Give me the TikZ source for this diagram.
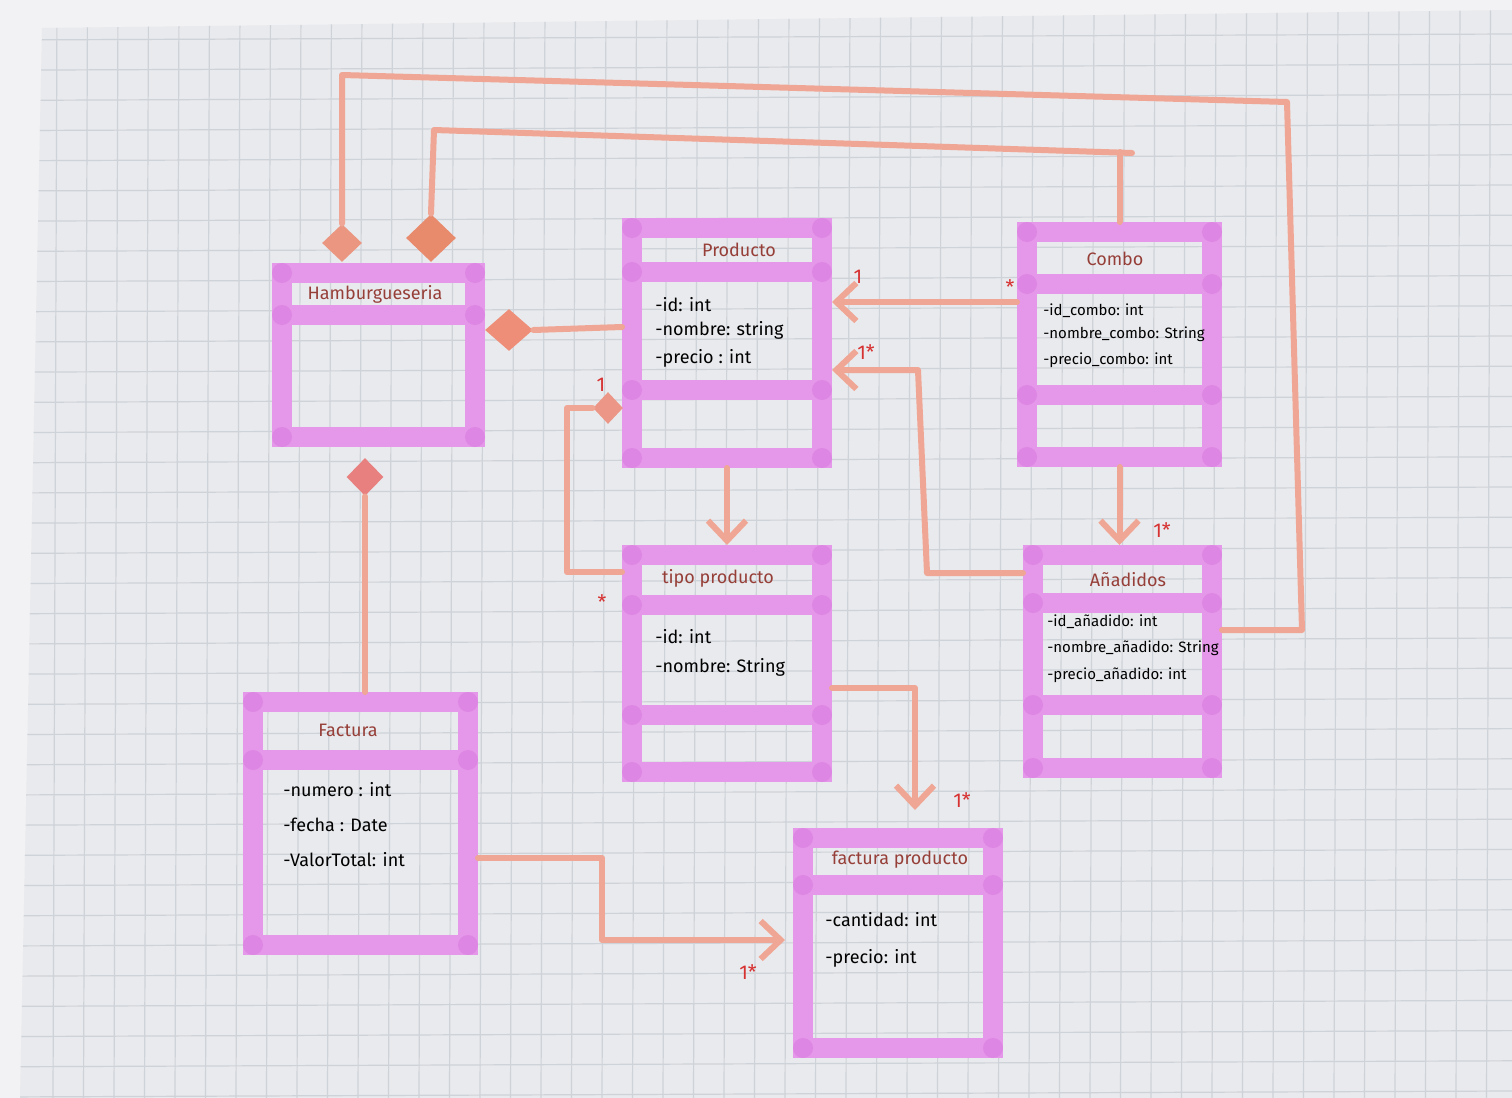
\documentclass[tikz,border=0pt]{standalone}
\usepackage{fontspec}
\setmainfont{Fira Sans}
\usetikzlibrary{arrows.meta,shapes.geometric}
\definecolor{outside}{RGB}{242,242,244}
\definecolor{paper}{RGB}{233,234,237}
\definecolor{gridc}{RGB}{206,210,217}
\definecolor{band}{RGB}{229,152,233}
\definecolor{banddark}{RGB}{214,118,222}
\definecolor{salmon}{RGB}{240,166,148}
\definecolor{diaA}{RGB}{234,150,128}
\definecolor{diaB}{RGB}{232,138,108}
\definecolor{diaC}{RGB}{238,142,120}
\definecolor{diaD}{RGB}{236,150,135}
\definecolor{diaE}{RGB}{232,128,128}
\definecolor{titlec}{RGB}{150,62,56}
\definecolor{lblc}{RGB}{215,50,50}
\begin{document}
\begin{tikzpicture}[x=0.5pt,y=-0.5pt,
  cls/.style={draw=band, line width=10pt, inner sep=0pt},
  divider/.style={draw=band, line width=10pt},
  cdot/.style={fill=banddark, opacity=0.5},
  conn/.style={draw=salmon, line width=3pt, line cap=round, line join=round},
  arr/.style={conn, -{Straight Barb[length=10pt,width=19pt]}},
  dia/.style={diamond, fill=#1, inner sep=0pt, aspect=1},
  ttl/.style={text=titlec, font=\fontsize{9}{10}\selectfont, inner sep=0pt},
  attr/.style={text=black, font=\fontsize{9}{10}\selectfont, anchor=west, inner sep=0pt},
  sattr/.style={text=black, font=\fontsize{7.5}{9}\selectfont, anchor=west, inner sep=0pt},
  lbl/.style={text=lblc, font=\fontsize{10}{11}\selectfont, inner sep=0pt}
]
\useasboundingbox (0,0) rectangle (1512,1098);
\fill[outside] (0,0) rectangle (1512,1098);
\fill[paper] (42,28) -- (1512,10) -- (1512,1098) -- (20,1098) -- cycle;
\begin{scope}
  \clip (42,28) -- (1512,10) -- (1512,1098) -- (20,1098) -- cycle;
  \foreach \i in {0,...,48} \draw[gridc, line width=0.6pt] ({57+30.5*\i},0) -- ++(-4,1098);
  \foreach \j in {0,...,36} \draw[gridc, line width=0.6pt] (0,{40+30.2*\j}) -- ++(1512,-6);
\end{scope}

% classes
\node[cls, minimum width=96.5pt, minimum height=82pt] (H) at (378.5,355) {};
\node[cls, minimum width=95pt, minimum height=115pt] (P) at (727,343) {};
\node[cls, minimum width=92.5pt, minimum height=112.5pt] (C) at (1119.5,344.5) {};
\node[cls, minimum width=95pt, minimum height=108.5pt] (T) at (727,663.5) {};
\node[cls, minimum width=89.5pt, minimum height=106.5pt] (A) at (1122.5,661.5) {};
\node[cls, minimum width=107.5pt, minimum height=121.5pt] (F) at (360.5,823.5) {};
\node[cls, minimum width=95pt, minimum height=105pt] (FP) at (898,943) {};

% dividers
\draw[divider] (282,315) -- (475,315);
\draw[divider] (632,272) -- (822,272);
\draw[divider] (632,390) -- (822,390);
\draw[divider] (1027,284) -- (1212,284);
\draw[divider] (1027,395) -- (1212,395);
\draw[divider] (632,605) -- (822,605);
\draw[divider] (632,715) -- (822,715);
\draw[divider] (1033,603) -- (1212,603);
\draw[divider] (1033,705) -- (1212,705);
\draw[divider] (253,760) -- (468,760);
\draw[divider] (803,885) -- (993,885);

% darker marks at corners and divider ends
\foreach \p in {(282,273),(475,273),(282,437),(475,437),(282,315),(475,315),
  (632,228),(822,228),(632,458),(822,458),(632,272),(822,272),(632,390),(822,390),
  (1027,232),(1212,232),(1027,457),(1212,457),(1027,284),(1212,284),(1027,395),(1212,395),
  (632,555),(822,555),(632,772),(822,772),(632,605),(822,605),(632,715),(822,715),
  (1033,555),(1212,555),(1033,768),(1212,768),(1033,603),(1212,603),(1033,705),(1212,705),
  (253,702),(468,702),(253,945),(468,945),(253,760),(468,760),
  (803,838),(993,838),(803,1048),(993,1048),(803,885),(993,885)}
  \fill[cdot] \p circle (5pt);

% titles
\node[ttl] (tH) at (375,294) {Hamburgueseria};
\node[ttl] (tP) at (739,250) {Producto};
\node[ttl] (tC) at (1115,259) {Combo};
\node[ttl] (tT) at (718,578) {tipo producto};
\node[ttl] (tA) at (1128,580) {Añadidos};
\node[ttl] (tF) at (348,730) {Factura};
\node[ttl] (tFP) at (900,860) {factura producto};

% attributes
\node[attr] (p1) at (655,305) {-id: int};
\node[attr] (p2) at (655,330) {-nombre: string};
\node[attr] (p3) at (655,358) {-precio : int};
\node[sattr] (c1) at (1043,311) {-id\_combo: int};
\node[sattr] (c2) at (1043,334) {-nombre\_combo: String};
\node[sattr] (c3) at (1043,360) {-precio\_combo: int};
\node[attr] (t1) at (655,637) {-id: int};
\node[attr] (t2) at (655,667) {-nombre: String};
\node[sattr] (a1) at (1047,622) {-id\_añadido: int};
\node[sattr] (a2) at (1047,648) {-nombre\_añadido: String};
\node[sattr] (a3) at (1047,675) {-precio\_añadido: int};
\node[attr] (f1) at (283,790) {-numero : int};
\node[attr] (f2) at (283,825) {-fecha : Date};
\node[attr] (f3) at (283,860) {-ValorTotal: int};
\node[attr] (fp1) at (825,920) {-cantidad: int};
\node[attr] (fp2) at (825,958) {-precio: int};

% diamonds
\node[dia=diaA, minimum width=20pt, minimum height=19pt] (d1) at (342,243) {};
\node[dia=diaB, minimum width=25pt, minimum height=24pt] (d2) at (431,238) {};
\node[dia=diaC, minimum width=24pt, minimum height=21pt] (d3) at (509,330) {};
\node[dia=diaD, minimum width=15pt, minimum height=16pt] (d7) at (608,408) {};
\node[dia=diaE, minimum width=18.5pt, minimum height=19pt] (d11) at (365,477) {};

% connectors
\draw[conn] (d1.north) -- (342,75) -- (1287,102) -- (1302,630) -- (A.east |- 0,630);
\draw[conn] (d2.north) -- (434,130) -- (1132,153);
\draw[conn] (C.north) -- ++(0,-70);
\draw[conn] (d3.east) -- (P.west |- 0,327);
\draw[arr] (C.west |- 0,302) -- (P.east |- 0,302);
\draw[arr] (A.west |- 0,573) -- (927,573) -- (918,370) -- (P.east |- 0,370);
\draw[arr] (P.south) -- (T.north);
\draw[conn] (d7.west) -- (567,408) -- (567,572) -- (T.west |- 0,572);
\draw[arr] (C.south) -- (C.south |- A.north);
\draw[arr, shorten >=9pt] (T.east |- 0,688) -- (915,688) -- (FP.north -| 915,0);
\draw[arr, shorten >=4pt] (F.east |- 0,858) -- (602,858) -- (602,940) -- (FP.west |- 0,940);
\draw[conn] (d11.south) -- (d11.south |- F.north);

% multiplicities
\node[lbl] (m1) at (858,277) {1};
\node[lbl] (m2) at (1010,287) {*};
\node[lbl] (m3) at (866,352) {1*};
\node[lbl] (m4) at (601,385) {1};
\node[lbl] (m5) at (602,602) {*};
\node[lbl] (m6) at (1162,530) {1*};
\node[lbl] (m7) at (962,800) {1*};
\node[lbl] (m8) at (748,972) {1*};
\end{tikzpicture}
\end{document}
